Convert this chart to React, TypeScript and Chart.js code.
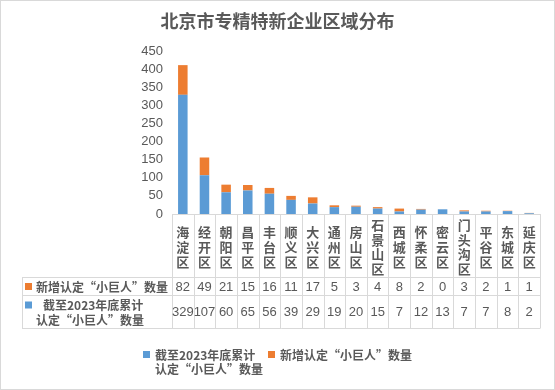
import React, { useEffect, useRef } from "react";
import { Chart, registerables } from "chart.js";

Chart.register(...registerables);

const chartTitle = "北京市专精特新企业区域分布";
const categories = [
  "海淀区", "经开区", "朝阳区", "昌平区", "丰台区", "顺义区", "大兴区", "通州区", "房山区",
  "石景山区", "西城区", "怀柔区", "密云区", "门头沟区", "平谷区", "东城区", "延庆区",
];
const cumulativeLabel = ["截至2023年底累计", "认定“小巨人”数量"];
const newLabel = "新增认定“小巨人”数量";
const cumulativeValues = [329, 107, 60, 65, 56, 39, 29, 19, 20, 15, 7, 12, 13, 7, 7, 8, 2];
const newValues = [82, 49, 21, 15, 16, 11, 17, 5, 3, 4, 8, 2, 0, 3, 2, 1, 1];
const yMax = 450;
const yStep = 50;

const BLUE = "#5B9BD5";
const ORANGE = "#ED7D31";
const GRID = "#D9D9D9";
const TEXT = "#595959";
const CJK = '"Noto Sans CJK SC", "Noto Sans", sans-serif';
const NUM = '"Liberation Sans Narrow", "Liberation Sans", Arial, sans-serif';

const tablePlugin = {
  id: "excelTable",
  beforeDraw(chart: any) {
    const ctx = chart.ctx;
    ctx.save();
    ctx.fillStyle = "#ffffff";
    ctx.fillRect(0, 0, chart.width, chart.height);
    ctx.restore();
  },
  afterDraw(chart: any) {
    const ctx: CanvasRenderingContext2D = chart.ctx;
    const xs = chart.scales.x;
    const area = chart.chartArea;
    const n = categories.length;
    const cw = (area.right - area.left) / n;
    const axisY = Math.round(area.bottom);
    const labelBottom = axisY + 63;
    const row1Bottom = labelBottom + 18;
    const row2Bottom = row1Bottom + 33;
    const tableLeft = 22;
    const right = Math.round(area.right);

    ctx.save();
    // title
    ctx.fillStyle = TEXT;
    ctx.font = `bold 18px ${CJK}`;
    ctx.textAlign = "center";
    ctx.textBaseline = "middle";
    ctx.fillText(chartTitle, chart.width / 2, 21);

    // lines
    ctx.strokeStyle = GRID;
    ctx.lineWidth = 1;
    const line = (x1: number, y1: number, x2: number, y2: number) => {
      ctx.beginPath();
      ctx.moveTo(x1, y1);
      ctx.lineTo(x2, y2);
      ctx.stroke();
    };
    line(area.left, axisY + 0.5, right, axisY + 0.5);
    for (let i = 0; i <= n; i++) {
      const bx = Math.round(i < n ? xs.getPixelForValue(i) - cw / 2 : xs.getPixelForValue(n - 1) + cw / 2) + 0.5;
      line(bx, axisY, bx, row2Bottom);
    }
    line(tableLeft + 0.5, labelBottom, tableLeft + 0.5, row2Bottom);
    [labelBottom, row1Bottom, row2Bottom].forEach((y) => line(tableLeft, y + 0.5, right + 0.5, y + 0.5));

    // category labels (vertical stacked chars)
    ctx.fillStyle = TEXT;
    ctx.font = `bold 13px ${CJK}`;
    ctx.textAlign = "center";
    ctx.textBaseline = "middle";
    const midY = (axisY + labelBottom) / 2 + 1.5;
    categories.forEach((c, i) => {
      const cx = xs.getPixelForValue(i);
      const chars = Array.from(c);
      const sp = chars.length > 3 ? 14.4 : 15.2;
      const start = midY - ((chars.length - 1) * sp) / 2;
      chars.forEach((ch, k) => ctx.fillText(ch, cx, start + k * sp));
    });

    // values
    ctx.font = `13px ${NUM}`;
    const r1 = (labelBottom + row1Bottom) / 2 + 1;
    const r2 = (row1Bottom + row2Bottom) / 2 + 1;
    categories.forEach((_, i) => {
      const cx = xs.getPixelForValue(i);
      ctx.fillText(String(newValues[i]), cx, r1);
      ctx.fillText(String(cumulativeValues[i]), cx, r2);
    });

    // row headers
    ctx.textAlign = "left";
    ctx.font = `bold 12px ${CJK}`;
    ctx.fillStyle = ORANGE;
    ctx.fillRect(25, r1 - 4, 7, 7);
    ctx.fillStyle = TEXT;
    ctx.fillText(newLabel, 36, r1);
    ctx.fillStyle = BLUE;
    ctx.fillRect(25, r2 - 11, 7, 7);
    ctx.fillStyle = TEXT;
    ctx.fillText(cumulativeLabel[0], 43, r2 - 7);
    ctx.fillText(cumulativeLabel[1], 36, r2 + 8);

    // legend
    ctx.fillStyle = BLUE;
    ctx.fillRect(143, 351, 7, 7);
    ctx.fillStyle = TEXT;
    ctx.fillText(cumulativeLabel[0], 155, 355);
    ctx.fillText(cumulativeLabel[1], 155, 369);
    ctx.fillStyle = ORANGE;
    ctx.fillRect(268, 351, 7, 7);
    ctx.fillStyle = TEXT;
    ctx.fillText(newLabel, 280, 355);

    // outer border
    ctx.strokeStyle = GRID;
    ctx.strokeRect(0.5, 0.5, chart.width - 1, chart.height - 1);
    ctx.restore();
  },
};

export default function App() {
  const ref = useRef<HTMLCanvasElement | null>(null);
  useEffect(() => {
    if (!ref.current) return;
    const chart = new Chart(ref.current, {
      type: "bar",
      data: {
        labels: categories,
        datasets: [
          {
            label: cumulativeLabel.join(""),
            data: cumulativeValues,
            backgroundColor: BLUE,
            barPercentage: 0.44,
            categoryPercentage: 1,
          },
          {
            label: newLabel,
            data: newValues,
            backgroundColor: ORANGE,
            barPercentage: 0.44,
            categoryPercentage: 1,
          },
        ],
      },
      options: {
        responsive: false,
        animation: false,
        devicePixelRatio: 1,
        layout: { padding: { top: 51, bottom: 176, left: 0, right: 15 } },
        plugins: {
          legend: { display: false },
          title: { display: false },
          tooltip: { enabled: false },
        },
        scales: {
          x: { stacked: true, display: false },
          y: {
            stacked: true,
            min: 0,
            max: yMax,
            grid: { display: false, drawTicks: false },
            border: { display: false },
            ticks: {
              stepSize: yStep,
              autoSkip: false,
              padding: 9,
              color: TEXT,
              font: { size: 13, family: NUM },
            },
            afterFit: (scale: any) => {
              scale.width = 172;
            },
          },
        },
      },
      plugins: [tablePlugin],
    });
    return () => chart.destroy();
  }, []);
  return (
    <div style={{ position: "fixed", left: 0, top: 0, width: 555, height: 390, background: "#fff" }}>
      <canvas ref={ref} width={555} height={390} style={{ display: "block" }} />
    </div>
  );
}
